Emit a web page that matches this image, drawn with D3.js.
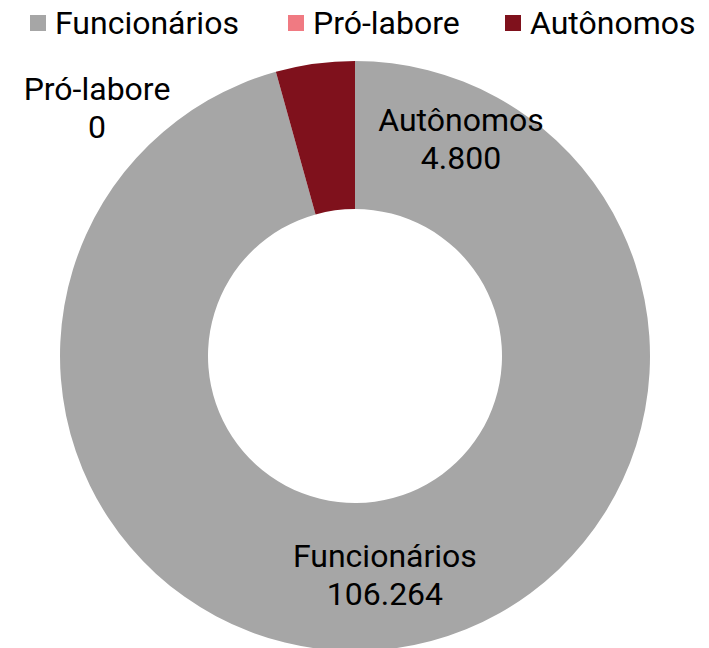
<!DOCTYPE html>
<html>
<head>
<meta charset="utf-8">
<script src="https://cdn.jsdelivr.net/npm/d3@7"></script>
<style>
  body { margin: 0; background: #fff; }
  text { font-family: Roboto, "Open Sans", sans-serif; fill: #000; }
</style>
</head>
<body>
<div id="canvas"></div>
<script>
/* Data */
let categories = ["Funcionários", "Pró-labore", "Autônomos"];
let values = [106264, 0, 4800];
let valueLabels = ["106.264", "0", "4.800"];
let colors = ["#A6A6A6", "#F07A82", "#7F111C"];

/* Drawing config */
let svgWidth = 709;
let svgHeight = 648;
let cx = 355, cy = 356;
let outerR = 295, innerR = 147;
let fontSize = "32px";

let svg = d3.select("#canvas")
    .append("svg")
    .attr("width", svgWidth)
    .attr("height", svgHeight);

let colorScale = d3.scaleOrdinal()
    .domain(categories)
    .range(colors);

let dataset = categories.map(function(c, i) {
    return { name: c, value: values[i], label: valueLabels[i] };
});

let pie = d3.pie()
    .sort(null)
    .value(d => d.value);

let arc = d3.arc()
    .innerRadius(innerR)
    .outerRadius(outerR);

let arcs = pie(dataset);

let g = svg.append("g")
    .attr("transform", `translate(${cx}, ${cy})`);

g.selectAll("path.slice")
    .data(arcs.filter(d => d.value > 0))
    .enter()
    .append("path")
    .attr("class", "slice")
    .attr("d", arc)
    .attr("fill", d => colorScale(d.data.name));

// data labels: the big one sits on its centroid, Excel moved the small ones out
let labelAnchor = {
    "Pró-labore": [-258, -248],
    "Autônomos": [106, -217]
};

// one text per label, name and value on two lines
let labels = g.selectAll("text.label")
    .data(arcs)
    .enter()
    .append("text")
    .attr("class", "label")
    .attr("text-anchor", "middle")
    .style("font-size", fontSize)
    .attr("transform", function(d) {
        let p = labelAnchor[d.data.name] || arc.centroid(d);
        return `translate(${p[0]}, ${p[1]})`;
    });

labels.append("tspan")
    .attr("x", 0)
    .attr("y", -8)
    .text(d => d.data.name);

labels.append("tspan")
    .attr("x", 0)
    .attr("y", 30)
    .text(d => d.data.label);

/* Legend */
let legendX = [30, 288, 505];
let legend = svg.selectAll("g.legend")
    .data(categories)
    .enter()
    .append("g")
    .attr("class", "legend")
    .attr("transform", (d, i) => `translate(${legendX[i]}, 0)`);

legend.append("rect")
    .attr("x", 0)
    .attr("y", 15)
    .attr("width", 16)
    .attr("height", 16)
    .attr("fill", d => colorScale(d));

legend.append("text")
    .attr("x", 25)
    .attr("y", 34)
    .style("font-size", fontSize)
    .text(d => d);
</script>
</body>
</html>
